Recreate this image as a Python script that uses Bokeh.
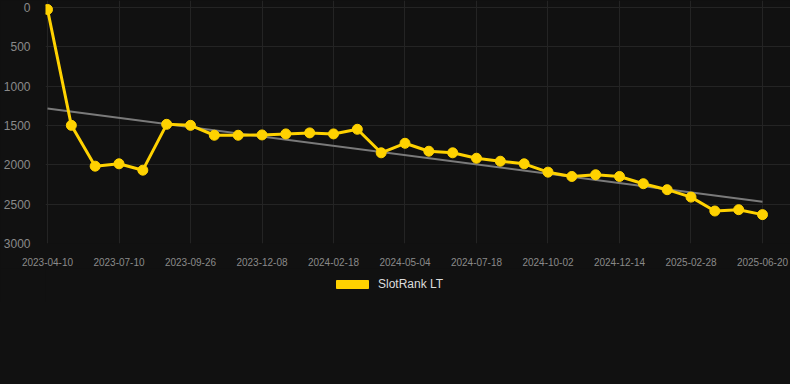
import numpy as np
from bokeh.plotting import figure
from bokeh.layouts import column
from bokeh.models import Range1d, FixedTicker, Legend, LegendItem, ColumnDataSource
from bokeh.embed import file_html
from bokeh.resources import INLINE

# ---- data ----
series_name = "SlotRank LT"
ranks = [25, 1498, 2017, 1987, 2068, 1485, 1498, 1624, 1624, 1620, 1607,
         1594, 1607, 1548, 1847, 1726, 1827, 1847, 1916, 1954, 1987, 2093,
         2148, 2126, 2148, 2240, 2316, 2410, 2587, 2570, 2633]
tick_labels = ["2023-04-10", "2023-07-10", "2023-09-26", "2023-12-08",
               "2024-02-18", "2024-05-04", "2024-07-18", "2024-10-02",
               "2024-12-14", "2025-02-28", "2025-06-20"]
tick_step = 3
y_ticks = [0, 500, 1000, 1500, 2000, 2500, 3000]

idx = list(range(len(ranks)))
tick_pos = [i * tick_step for i in range(len(tick_labels))]

slope, intercept = np.polyfit(idx, ranks, 1)
trend_x = [idx[0], idx[-1]]
trend_y = [intercept + slope * idx[0], intercept + slope * idx[-1]]

BG = "#111111"
YELLOW = "#FFD200"
FONT = "Liberation Sans"

p = figure(frame_width=745, frame_height=243, output_backend="svg", toolbar_location=None,
           x_range=Range1d(-0.084, 31.175), y_range=Range1d(3000, -89),
           min_border_left=45, min_border_right=0, min_border_top=0,
           min_border_bottom=24)
p.background_fill_color = BG
p.border_fill_color = BG
p.outline_line_color = None

src = ColumnDataSource(dict(x=idx, y=ranks))
p.line(trend_x, trend_y, line_color="#7a7a7a", line_width=2)
p.line("x", "y", source=src, line_color=YELLOW, line_width=3)
p.scatter("x", "y", source=src, size=10, fill_color=YELLOW, line_color=YELLOW)

p.xaxis.ticker = FixedTicker(ticks=tick_pos)
p.xaxis.major_label_overrides = {t: l for t, l in zip(tick_pos, tick_labels)}
p.yaxis.ticker = FixedTicker(ticks=y_ticks)

for ax in (p.xaxis[0], p.yaxis[0]):
    ax.axis_line_color = None
    ax.major_tick_line_color = None
    ax.minor_tick_line_color = None
    ax.major_label_text_font = FONT
    ax.major_label_text_color = "#8a8a8a"
p.xaxis.major_label_text_font_size = "10px"
p.yaxis.major_label_text_font_size = "12px"
p.xaxis.major_label_standoff = 8
p.yaxis.major_label_standoff = 9

p.xgrid.ticker = FixedTicker(ticks=tick_pos)
p.ygrid.ticker = FixedTicker(ticks=y_ticks)
p.grid.grid_line_color = "#242424"
p.grid.grid_line_width = 1

# legend strip
lg = figure(width=790, height=34, output_backend="svg", toolbar_location=None,
            x_range=Range1d(0, 1), y_range=Range1d(0, 1),
            x_axis_type=None, y_axis_type=None,
            min_border_left=0, min_border_right=0, min_border_top=0, min_border_bottom=0)
lg.background_fill_color = BG
lg.border_fill_color = BG
lg.outline_line_color = None
lg.grid.visible = False
box = lg.quad(left=[0], right=[0], top=[0], bottom=[0],
              fill_color=YELLOW, line_color=YELLOW, visible=False)
legend = Legend(items=[LegendItem(label=series_name, renderers=[box])],
                location=(287, 11), orientation="horizontal",
                background_fill_alpha=0, border_line_color=None,
                inactive_fill_alpha=0,
                label_text_color="#dddddd", label_text_font=FONT,
                label_text_font_size="12px", glyph_width=40, glyph_height=10,
                label_standoff=6, padding=0, margin=0)
lg.add_layout(legend)

layout = column(p, lg, spacing=0)

tpl = """{% block preamble %}<style>html,body{background:#111111;}</style>{% endblock %}"""
open("out.html", "w").write(file_html(layout, INLINE, template=tpl))
